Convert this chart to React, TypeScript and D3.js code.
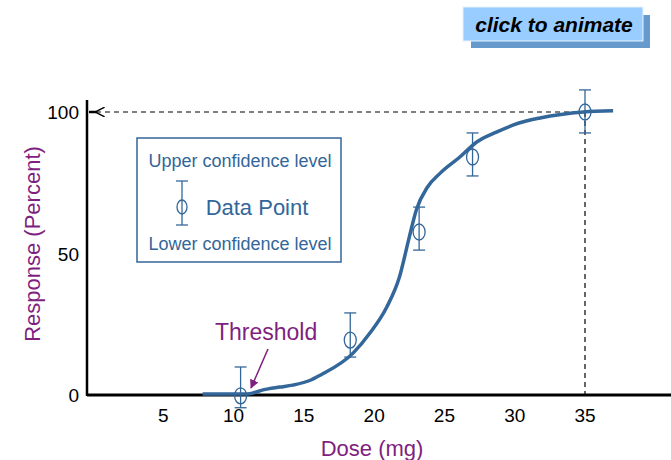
import React from "react";
import * as d3 from "d3";

const xTicks = [5, 10, 15, 20, 25, 30, 35];
const yTicks = [0, 50, 100];

const pointDose = [10.5, 18.3, 23.2, 27, 35];
const pointResp = [-0.3, 19.4, 57.6, 84.1, 100];
const upperConf = [9.9, 29, 66.4, 92.6, 107.8];
const lowerConf = [-4.5, 13.4, 51.2, 77.4, 92.6];

const curveDose = [7.8, 11.0, 12.1, 13.3, 14.2, 15.5, 16.2, 18.5, 19.7, 20.9, 21.8, 22.5, 23.0, 23.8, 24.7, 26.1, 27.3, 28.7, 30.3, 31.8, 34.9, 37.0];
const curveResp = [0.35, 0.35, 1.8, 2.8, 3.5, 5.3, 7.1, 14.8, 21.9, 31.1, 41.7, 55.8, 65.4, 73.5, 78.4, 84.1, 89.4, 92.9, 96.1, 97.9, 100, 100.4];

const BLUE = "#336699";
const PURPLE = "#7f1f7f";
const FONT = "'Liberation Sans', Arial, sans-serif";

export default function App() {
  const W = 671, H = 460;
  const x = d3.scaleLinear().domain([0, 35]).range([93, 585]);
  const y = d3.scaleLinear().domain([0, 100]).range([395, 112]);
  const line = d3.line<number>().x((d) => x(curveDose[d])).y((d) => y(curveResp[d])).curve(d3.curveMonotoneX);
  const idx = curveDose.map((_, i) => i);
  const axisX = 87;
  const axisY = 395;
  return (
    <svg width={W} height={H} style={{ position: "absolute", left: 0, top: 0, background: "#fff" }} fontFamily={FONT}>
      <defs>
        <marker id="arr" viewBox="0 0 10 10" refX="1" refY="5" markerWidth="8" markerHeight="8" orient="auto">
          <path d="M10,0 L0,5 L10,10" fill="none" stroke="#000" strokeWidth={1.5} />
        </marker>
        <marker id="parr" viewBox="0 0 10 10" refX="9" refY="5" markerWidth="6" markerHeight="6" orient="auto">
          <path d="M0,0 L10,5 L0,10 z" fill={PURPLE} />
        </marker>
      </defs>
      <rect width={W} height={H} fill="#fff" />
      {/* button */}
      <rect x={471} y={15} width={179} height={33} fill="#6699cc" />
      <rect x={463} y={7} width={180} height={34} fill="#99ccff" stroke="#e8f2ff" strokeWidth={1} />
      <text x={554} y={32} textAnchor="middle" fontSize={21} fontWeight="bold" fontStyle="italic" fill="#000">click to animate</text>

      {/* dashed reference lines */}
      <line x1={96} y1={y(100)} x2={x(35)} y2={y(100)} stroke="#000" strokeWidth={1.2} strokeDasharray="5,4" markerStart="url(#arr)" />
      <line x1={x(35)} y1={y(100)} x2={x(35)} y2={axisY} stroke="#000" strokeWidth={1.2} strokeDasharray="5,4" />
      <line x1={axisX + 2} y1={y(100)} x2={96} y2={y(100)} stroke="#000" strokeWidth={2.5} />

      {/* axes */}
      <line x1={axisX} y1={100} x2={axisX} y2={axisY + 1} stroke="#000" strokeWidth={2.5} />
      <line x1={axisX} y1={axisY} x2={W} y2={axisY} stroke="#000" strokeWidth={3} />

      {xTicks.map((t) => (
        <text key={t} x={x(t)} y={422} textAnchor="middle" fontSize={19} fill="#000">{t}</text>
      ))}
      {yTicks.map((t) => (
        <text key={t} x={79} y={y(t) + 7} textAnchor="end" fontSize={19} fill="#000">{t}</text>
      ))}

      <text x={372} y={456} textAnchor="middle" fontSize={22} fill={PURPLE}>Dose (mg)</text>
      <text transform="translate(40,244) rotate(-90)" textAnchor="middle" fontSize={22} fill={PURPLE}>Response (Percent)</text>

      {/* legend */}
      <rect x={137} y={138} width={204} height={124} fill="#fff" stroke={BLUE} strokeWidth={1.5} />
      <text x={240} y={167} textAnchor="middle" fontSize={18} fill={BLUE}>Upper confidence level</text>
      <text x={257} y={215} textAnchor="middle" fontSize={22} fill={BLUE}>Data Point</text>
      <text x={240} y={250} textAnchor="middle" fontSize={18} fill={BLUE}>Lower confidence level</text>
      <g stroke={BLUE} strokeWidth={1.3} fill="none">
        <line x1={182} y1={181} x2={182} y2={225} />
        <line x1={176} y1={181} x2={188} y2={181} />
        <line x1={176} y1={225} x2={188} y2={225} />
        <ellipse cx={182} cy={207} rx={5} ry={7} />
      </g>

      {/* curve */}
      <path d={line(idx) || ""} fill="none" stroke={BLUE} strokeWidth={3.5} />

      {/* data points */}
      {pointDose.map((d, i) => (
        <g key={i} stroke={BLUE} strokeWidth={1.3} fill="none">
          <line x1={x(d)} y1={y(upperConf[i])} x2={x(d)} y2={y(lowerConf[i])} />
          <line x1={x(d) - 6} y1={y(upperConf[i])} x2={x(d) + 6} y2={y(upperConf[i])} />
          <line x1={x(d) - 6} y1={y(lowerConf[i])} x2={x(d) + 6} y2={y(lowerConf[i])} />
          <ellipse cx={x(d)} cy={y(pointResp[i])} rx={6} ry={8} />
        </g>
      ))}

      {/* threshold annotation */}
      <text x={215} y={340} fontSize={23} fill={PURPLE}>Threshold</text>
      <line x1={268} y1={349} x2={251} y2={388} stroke={PURPLE} strokeWidth={1.5} markerEnd="url(#parr)" />
    </svg>
  );
}
